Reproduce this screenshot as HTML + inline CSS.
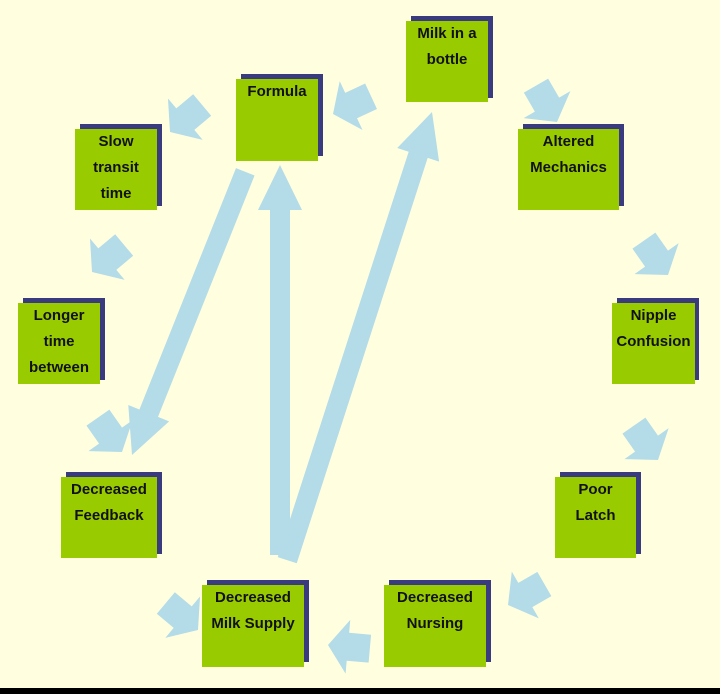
<!DOCTYPE html>
<html><head><meta charset="utf-8"><style>
body{margin:0;width:720px;height:694px;background:#ffffe0;position:relative;overflow:hidden;font-family:"Liberation Sans",sans-serif}
.bar{position:absolute;left:0;top:688px;width:720px;height:6px;background:#000}
.n{position:absolute}
.n .s{position:absolute;background:#3a3a7e}
.n .g{position:absolute;background:#99cc00;color:#111;font-weight:bold;font-size:15px;line-height:26px;text-align:center;padding-top:0;box-sizing:border-box}
svg{position:absolute;left:0;top:0}
</style></head><body>
<svg width="720" height="694">
<defs><polygon id="a" points="-42,-14 -20,-14 -20,-27 0,0 -20,27 -20,14 -42,14"/></defs>
<g fill="#b4dbe8">
<polygon transform="translate(132,455) rotate(111.8)" points="-305,-10 -45,-10 -45,-22 0,0 -45,22 -45,10 -305,10"/>
<polygon transform="translate(280,165) rotate(-90)" points="-390,-10 -45,-10 -45,-22 0,0 -45,22 -45,10 -390,10"/>
<polygon transform="translate(432,112) rotate(-72.1)" points="-471,-10 -45,-10 -45,-22 0,0 -45,22 -45,10 -471,10"/>
<use href="#a" transform="translate(333,114) rotate(155)"/>
<use href="#a" transform="translate(170,132) rotate(140)"/>
<use href="#a" transform="translate(92,272) rotate(140)"/>
<use href="#a" transform="translate(122,452) rotate(55)"/>
<use href="#a" transform="translate(198,630) rotate(40)"/>
<use href="#a" transform="translate(328,645) rotate(185)"/>
<use href="#a" transform="translate(508,605) rotate(150)"/>
<use href="#a" transform="translate(658,460) rotate(55)"/>
<use href="#a" transform="translate(668,275) rotate(55)"/>
<use href="#a" transform="translate(557,122) rotate(60)"/>
</g>
</svg>

<div class="n"><div class="s" style="left:241px;top:74px;width:82px;height:82px"></div><div class="g" style="left:236px;top:79px;width:82px;height:82px">Formula</div></div>
<div class="n"><div class="s" style="left:411px;top:16px;width:82px;height:82px"></div><div class="g" style="left:406px;top:21px;width:82px;height:81px">Milk in a<br>bottle</div></div>
<div class="n"><div class="s" style="left:523px;top:124px;width:101px;height:82px"></div><div class="g" style="left:518px;top:129px;width:101px;height:81px">Altered<br>Mechanics</div></div>
<div class="n"><div class="s" style="left:80px;top:124px;width:82px;height:82px"></div><div class="g" style="left:75px;top:129px;width:82px;height:81px">Slow<br>transit<br>time</div></div>
<div class="n"><div class="s" style="left:23px;top:298px;width:82px;height:82px"></div><div class="g" style="left:18px;top:303px;width:82px;height:81px">Longer<br>time<br>between</div></div>
<div class="n"><div class="s" style="left:617px;top:298px;width:82px;height:82px"></div><div class="g" style="left:612px;top:303px;width:83px;height:81px">Nipple<br>Confusion</div></div>
<div class="n"><div class="s" style="left:66px;top:472px;width:96px;height:82px"></div><div class="g" style="left:61px;top:477px;width:96px;height:81px">Decreased<br>Feedback</div></div>
<div class="n"><div class="s" style="left:560px;top:472px;width:81px;height:82px"></div><div class="g" style="left:555px;top:477px;width:81px;height:81px">Poor<br>Latch</div></div>
<div class="n"><div class="s" style="left:207px;top:580px;width:102px;height:82px"></div><div class="g" style="left:202px;top:585px;width:102px;height:82px">Decreased<br>Milk Supply</div></div>
<div class="n"><div class="s" style="left:389px;top:580px;width:102px;height:82px"></div><div class="g" style="left:384px;top:585px;width:102px;height:82px">Decreased<br>Nursing</div></div>
<div class="bar"></div>
</body></html>
